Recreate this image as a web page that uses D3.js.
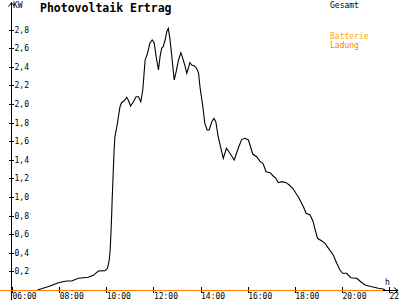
<!DOCTYPE html>
<html>
<head>
<meta charset="utf-8">
<script src="https://cdn.jsdelivr.net/npm/d3@7"></script>
<style>
  body { margin: 0; background: #fff; }
  svg { display: block; }
  text { font-family: "DejaVu Sans Mono", monospace; }
</style>
</head>
<body>
<div id="graph"></div>
<script>
WIDTH = 400;
HEIGHT = 300;

// Gesamt-Ertrag (kW)
var gesamtTimes = ["07:05","07:37","07:58","08:19","08:32","08:49","09:14","09:27","09:40","09:57",
  "10:03","10:07","10:10","10:12","10:14","10:15","10:20","10:22","10:27","10:35",
  "10:39","10:48","10:52","10:56","11:02","11:09","11:16","11:22","11:28","11:33",
  "11:39","11:45","11:51","11:57","12:02","12:07","12:13","12:17","12:21","12:25",
  "12:30","12:34","12:38","12:42","12:47","12:53","12:58","13:04","13:10","13:15",
  "13:21","13:25","13:29","13:33","13:38","13:44","13:50","13:55","13:59","14:06",
  "14:11","14:17","14:22","14:29","14:34","14:39","14:45","14:51","14:58","15:06",
  "15:15","15:26","15:36","15:45","15:53","16:02","16:06","16:13","16:23","16:32",
  "16:39","16:47","16:57","17:05","17:12","17:18","17:27","17:38","17:46","17:55",
  "18:03","18:11","18:22","18:29","18:39","18:47","18:52","18:58","19:09","19:17",
  "19:26","19:38","19:47","19:55","20:02","20:12","20:23","20:38","20:48","20:59",
  "21:16","21:33","21:45","21:50"];
var gesamtValues = [0, 0.043, 0.078, 0.097, 0.097, 0.126, 0.137, 0.158, 0.204, 0.208,
  0.233, 0.304, 0.43, 0.613, 0.825, 0.968, 1.505, 1.648, 1.756, 1.971,
  2.014, 2.043, 2.072, 2.043, 1.978, 2.025, 2.078, 2.078, 2.025, 2.15,
  2.473, 2.545, 2.653, 2.688, 2.659, 2.509, 2.366, 2.509, 2.599, 2.616,
  2.688, 2.777, 2.814, 2.706, 2.509, 2.258, 2.347, 2.473, 2.552, 2.491,
  2.401, 2.33, 2.384, 2.444, 2.419, 2.409, 2.384, 2.333, 2.172, 1.971,
  1.792, 1.72, 1.72, 1.81, 1.846, 1.81, 1.648, 1.541, 1.416, 1.524,
  1.47, 1.398, 1.524, 1.62, 1.631, 1.613, 1.559, 1.462, 1.433, 1.38,
  1.362, 1.272, 1.261, 1.226, 1.201, 1.154, 1.165, 1.154, 1.129, 1.094,
  1.04, 0.986, 0.896, 0.825, 0.806, 0.734, 0.645, 0.556, 0.527, 0.502,
  0.448, 0.376, 0.287, 0.215, 0.18, 0.18, 0.132, 0.126, 0.089, 0.054,
  0.035, 0.018, 0.011, 0];

// Batterie-Ladung (kW)
var ladungTimes = ["05:30", "21:45"];
var ladungValues = [0, 0];

var xTicks = [6, 8, 10, 12, 14, 16, 18, 20, 22];
var xTickLabels = ["06:00","08:00","10:00","12:00","14:00","16:00","18:00","20:00","22:00"];
var yTicks = [0.2, 0.4, 0.6, 0.8, 1.0, 1.2, 1.4, 1.6, 1.8, 2.0, 2.2, 2.4, 2.6, 2.8];
var yTickLabels = ["0,2","0,4","0,6","0,8","1,0","1,2","1,4","1,6","1,8","2,0","2,2","2,4","2,6","2,8"];

function toHours(s) {
	var p = s.split(":");
	return +p[0] + p[1] / 60;
}

var svg = d3.select("#graph").append("svg").attr("width", WIDTH).attr("height", HEIGHT);

var x = d3.scaleLinear().domain([6, 22]).range([12, 389]);
var y = d3.scaleLinear().domain([0, 2.8]).range([290, 29.6]);

// Achsen
var yAxis = d3.axisRight(y)
	.tickValues(yTicks)
	.tickSize(5)
	.tickPadding(1)
	.tickFormat(function(d, i) { return yTickLabels[i]; });

var yg = svg.append("g").attr("transform", "translate(8.5,0)").call(yAxis);
yg.select(".domain").remove();
yg.selectAll("line").attr("stroke", "#000").attr("shape-rendering", "crispEdges");
yg.selectAll("text").attr("font-size", 8).attr("fill", "#000");

var xAxis = d3.axisBottom(x)
	.tickValues(xTicks)
	.tickSize(6)
	.tickPadding(0)
	.tickFormat(function(d, i) { return xTickLabels[i]; });

var xg = svg.append("g").attr("transform", "translate(0,287)").call(xAxis);
xg.select(".domain").remove();
xg.selectAll("line").attr("stroke", "#000").attr("shape-rendering", "crispEdges");
xg.selectAll("text").attr("font-size", 8).attr("fill", "#000").attr("text-anchor", "start");

// Achsenlinien mit Pfeilen
svg.append("path")
	.attr("d", "M11.5,300V2.5M8.5,6.5L11.5,2.5L14.5,6.5")
	.attr("fill", "none").attr("stroke", "#000");
svg.append("path")
	.attr("d", "M0,290.5H398M394,287.5L398,290.5L394,293.5")
	.attr("fill", "none").attr("stroke", "#000");

svg.append("text").attr("x", 13).attr("y", 8).attr("font-size", 8).attr("fill", "#000").text("KW");
svg.append("text").attr("x", 385).attr("y", 285).attr("font-size", 8).attr("fill", "#000").text("h");

// Titel und Legende
svg.append("text")
	.attr("x", 40).attr("y", 11.5)
	.attr("font-size", 11.5).attr("font-weight", "bold")
	.text("Photovoltaik Ertrag");
svg.append("text").attr("x", 330).attr("y", 7.5).attr("font-size", 8).attr("fill", "#000").text("Gesamt");
svg.append("text").attr("x", 330).attr("y", 38.5).attr("font-size", 8).attr("fill", "#ffaa00").text("Batterie");
svg.append("text").attr("x", 330).attr("y", 47.5).attr("font-size", 8).attr("fill", "#ff8000").text("Ladung");

var line = d3.line()
	.x(function(d) { return x(d.t); })
	.y(function(d) { return y(d.v); });

var gesamt = gesamtTimes.map(function(t, i) { return { t: toHours(t), v: gesamtValues[i] }; });
var ladung = ladungTimes.map(function(t, i) { return { t: toHours(t), v: ladungValues[i] }; });

svg.append("path")
	.datum(gesamt)
	.attr("d", line)
	.attr("fill", "none")
	.attr("stroke", "#000")
	.attr("stroke-width", 1.1);

svg.append("path")
	.datum(ladung)
	.attr("d", line)
	.attr("transform", "translate(0,0.5)")
	.attr("fill", "none")
	.attr("stroke", "#ff8000")
	.attr("stroke-width", 1.2)
	.attr("shape-rendering", "crispEdges");
</script>
</body>
</html>
